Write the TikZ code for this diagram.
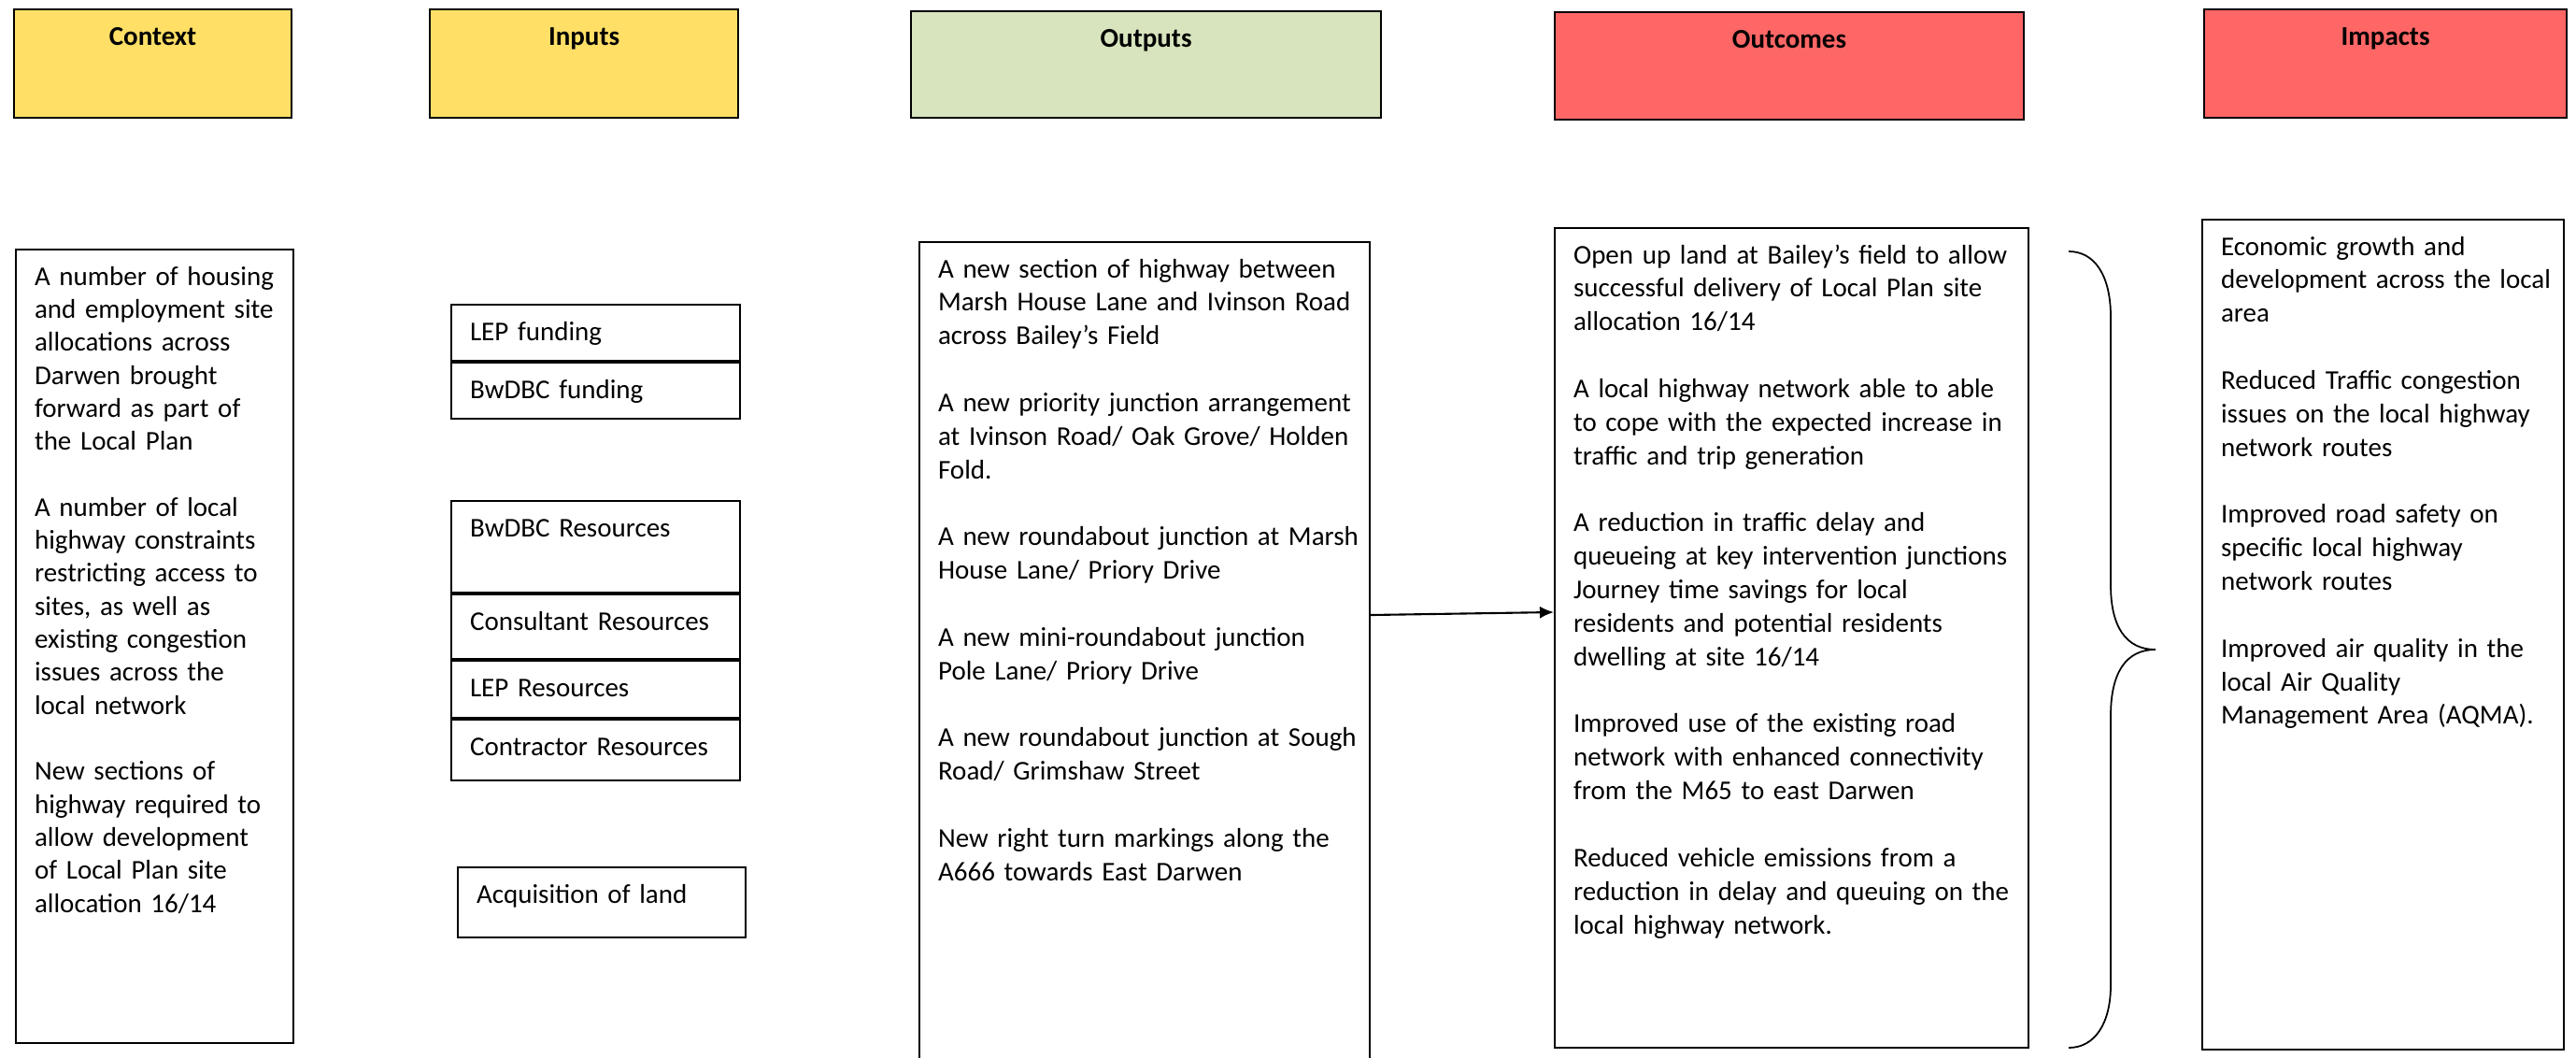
\documentclass[tikz,border=0pt]{standalone}
\usepackage{fontspec}
\setmainfont{Carlito}
\usetikzlibrary{arrows.meta}
\definecolor{hdryellow}{HTML}{FFDF66}
\definecolor{hdrgreen}{HTML}{D7E4BD}
\definecolor{hdrred}{HTML}{FF6666}
\newcommand{\boxfont}{\fontsize{8.25}{10.2}\selectfont}
\newcommand{\gap}{\\[\baselineskip]}

\begin{document}
\begin{tikzpicture}[
  cell/.style={draw, line width=0.6pt, anchor=north west, inner sep=0pt, text height=0.38cm, font=\boxfont},
  head/.style={cell, align=center, font=\boxfont\bfseries},
  body/.style={cell, align=left, execute at begin node={\leftskip=0.2cm}},
]
\useasboundingbox (0,0) rectangle (27.57,-11.31);
\clip (0,0) rectangle (27.57,-11.31);

\node[head, fill=hdryellow, text width=2.97cm, text depth=0.78cm] (context) at (0.14,-0.09) {Context};
\node[head, fill=hdryellow, text width=3.30cm, text depth=0.78cm] (inputs) at (4.59,-0.09) {Inputs};
\node[head, fill=hdrgreen, text width=5.03cm, text depth=0.76cm] (outputs) at (9.74,-0.11) {Outputs};
\node[head, fill=hdrred, text width=5.02cm, text depth=0.77cm] (outcomes) at (16.63,-0.12) {Outcomes};
\node[head, fill=hdrred, text width=3.88cm, text depth=0.78cm] (impacts) at (23.58,-0.09) {Impacts};

\node[body, text width=2.97cm, text depth=8.11cm, font=\fontsize{8.25}{10.05}\selectfont] (ctxbody) at (0.16,-2.66) {A number of housing\\
and employment site\\
allocations across\\
Darwen brought\\
forward as part of\\
the Local Plan\gap
A number of local\\
highway constraints\\
restricting access to\\
sites, as well as\\
existing congestion\\
issues across the\\
local network\gap
New sections of\\
highway required to\\
allow development\\
of Local Plan site\\
allocation 16/14};

\node[body, text width=3.09cm, text depth=0.22cm] (lepfund) at (4.82,-3.25) {LEP funding};
\node[body, text width=3.09cm, text depth=0.22cm] (bwfund) at (lepfund.south west) {BwDBC funding};
\node[body, text width=3.09cm, text depth=0.60cm] (bwres) at (4.82,-5.35) {BwDBC Resources};
\node[body, text width=3.09cm, text depth=0.31cm] (conres) at (bwres.south west) {Consultant Resources};
\node[body, text width=3.09cm, text depth=0.23cm] (lepres) at (conres.south west) {LEP Resources};
\node[body, text width=3.09cm, text depth=0.27cm] (ctrres) at (lepres.south west) {Contractor Resources};
\node[body, text width=3.08cm, text depth=0.37cm] (land) at (4.89,-9.27) {Acquisition of land};

\node[body, text width=4.82cm, text depth=8.44cm] (outpbody) at (9.83,-2.58) {A new section of highway between\\
Marsh House Lane and Ivinson Road\\
across Bailey’s Field\gap
A new priority junction arrangement\\
at Ivinson Road/ Oak Grove/ Holden\\
Fold.\gap
A new roundabout junction at Marsh\\
House Lane/ Priory Drive\gap
A new mini-roundabout junction\\
Pole Lane/ Priory Drive\gap
A new roundabout junction at Sough\\
Road/ Grimshaw Street\gap
New right turn markings along the\\
A666 towards East Darwen};

\node[body, text width=5.07cm, text depth=8.39cm] (outcbody) at (16.63,-2.43) {Open up land at Bailey’s field to allow\\
successful delivery of Local Plan site\\
allocation 16/14\gap
A local highway network able to able\\
to cope with the expected increase in\\
traffic and trip generation\gap
A reduction in traffic delay and\\
queueing at key intervention junctions\\
Journey time savings for local\\
residents and potential residents\\
dwelling at site 16/14\gap
Improved use of the existing road\\
network with enhanced connectivity\\
from the M65 to east Darwen\gap
Reduced vehicle emissions from a\\
reduction in delay and queuing on the\\
local highway network.};

\node[body, text width=3.87cm, text depth=8.50cm] (impbody) at (23.56,-2.34) {Economic growth and\\
development across the local\\
area\gap
Reduced Traffic congestion\\
issues on the local highway\\
network routes\gap
Improved road safety on\\
specific local highway\\
network routes\gap
Improved air quality in the\\
local Air Quality\\
Management Area (AQMA).};

\draw[line width=0.6pt, -{Latex[length=0.15cm, width=0.13cm]}] (outpbody.east |- 0,-6.58) -- (outcbody.west |- 0,-6.55);

\draw[line width=0.5pt] (22.14,-2.69) .. controls (22.42,-2.69) and (22.59,-2.95) .. (22.59,-3.39) -- (22.59,-6.26) .. controls (22.59,-6.70) and (22.75,-6.95) .. (23.07,-6.95) .. controls (22.75,-6.95) and (22.59,-7.20) .. (22.59,-7.66) -- (22.59,-10.54) .. controls (22.59,-10.95) and (22.42,-11.21) .. (22.14,-11.21);
\end{tikzpicture}
\end{document}
